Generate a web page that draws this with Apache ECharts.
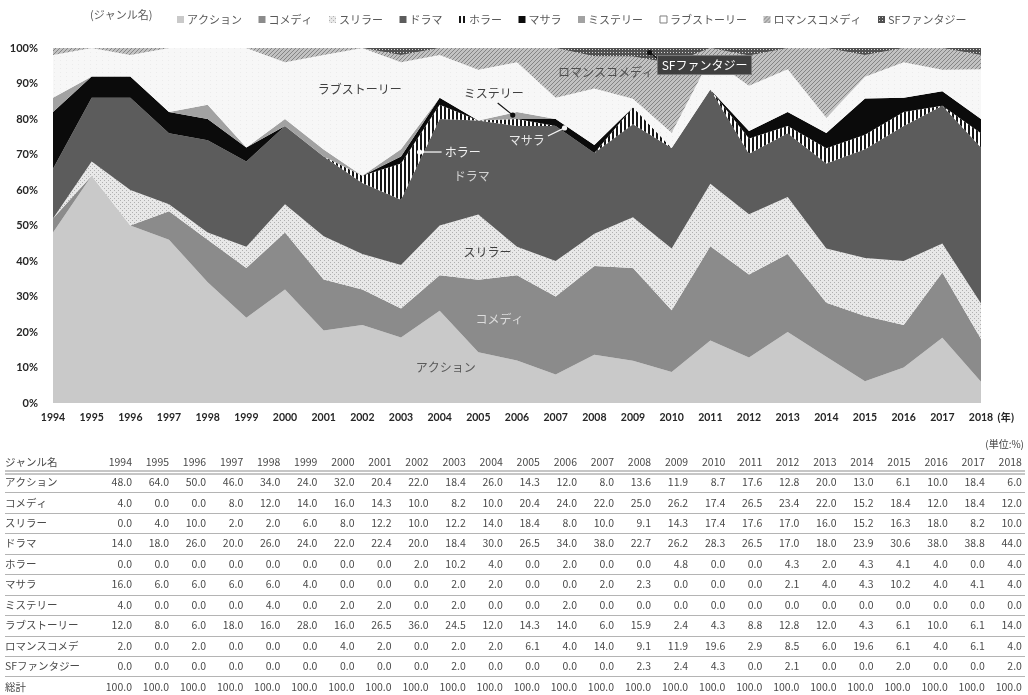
<!DOCTYPE html>
<html>
<head>
<meta charset="utf-8">
<script src="https://cdn.jsdelivr.net/npm/echarts@6/dist/echarts.min.js"></script>
<style>
  html, body { margin: 0; padding: 0; background: #ffffff; }
  #chart { width: 1028px; height: 695px; }
</style>
</head>
<body>
<div id="chart"></div>
<script>
// ---- data (shares by genre, %) ----
const years = ['1994','1995','1996','1997','1998','1999','2000','2001','2002','2003','2004','2005',
               '2006','2007','2008','2009','2010','2011','2012','2013','2014','2015','2016','2017','2018'];

const genres = ['アクション','コメディ','スリラー','ドラマ','ホラー','マサラ','ミステリー','ラブストーリー','ロマンスコメディ','SFファンタジー'];
const tableNames = ['アクション','コメディ','スリラー','ドラマ','ホラー','マサラ','ミステリー','ラブストーリー','ロマンスコメデ','SFファンタジー'];

const action   = [48.0,64.0,50.0,46.0,34.0,24.0,32.0,20.4,22.0,18.4,26.0,14.3,12.0,8.0,13.6,11.9,8.7,17.6,12.8,20.0,13.0,6.1,10.0,18.4,6.0];
const comedy   = [4.0,0.0,0.0,8.0,12.0,14.0,16.0,14.3,10.0,8.2,10.0,20.4,24.0,22.0,25.0,26.2,17.4,26.5,23.4,22.0,15.2,18.4,12.0,18.4,12.0];
const thriller = [0.0,4.0,10.0,2.0,2.0,6.0,8.0,12.2,10.0,12.2,14.0,18.4,8.0,10.0,9.1,14.3,17.4,17.6,17.0,16.0,15.2,16.3,18.0,8.2,10.0];
const drama    = [14.0,18.0,26.0,20.0,26.0,24.0,22.0,22.4,20.0,18.4,30.0,26.5,34.0,38.0,22.7,26.2,28.3,26.5,17.0,18.0,23.9,30.6,38.0,38.8,44.0];
const horror   = [0.0,0.0,0.0,0.0,0.0,0.0,0.0,0.0,2.0,10.2,4.0,0.0,2.0,0.0,0.0,4.8,0.0,0.0,4.3,2.0,4.3,4.1,4.0,0.0,4.0];
const masala   = [16.0,6.0,6.0,6.0,6.0,4.0,0.0,0.0,0.0,2.0,2.0,0.0,0.0,2.0,2.3,0.0,0.0,0.0,2.1,4.0,4.3,10.2,4.0,4.1,4.0];
const mystery  = [4.0,0.0,0.0,0.0,4.0,0.0,2.0,2.0,0.0,2.0,0.0,0.0,2.0,0.0,0.0,0.0,0.0,0.0,0.0,0.0,0.0,0.0,0.0,0.0,0.0];
const lovestory= [12.0,8.0,6.0,18.0,16.0,28.0,16.0,26.5,36.0,24.5,12.0,14.3,14.0,6.0,15.9,2.4,4.3,8.8,12.8,12.0,4.3,6.1,10.0,6.1,14.0];
const romcom   = [2.0,0.0,2.0,0.0,0.0,0.0,4.0,2.0,0.0,2.0,2.0,6.1,4.0,14.0,9.1,11.9,19.6,2.9,8.5,6.0,19.6,6.1,4.0,6.1,4.0];
const sfFantasy= [0.0,0.0,0.0,0.0,0.0,0.0,0.0,0.0,0.0,2.0,0.0,0.0,0.0,0.0,2.3,2.4,4.3,0.0,2.1,0.0,0.0,2.0,0.0,0.0,2.0];
const totals   = [100.0,100.0,100.0,100.0,100.0,100.0,100.0,100.0,100.0,100.0,100.0,100.0,
                  100.0,100.0,100.0,100.0,100.0,100.0,100.0,100.0,100.0,100.0,100.0,100.0,100.0];

const yTicks = [0,10,20,30,40,50,60,70,80,90,100];

const seriesValues = [action, comedy, thriller, drama, horror, masala, mystery, lovestory, romcom, sfFantasy];

// ---- fills ----
function pattern(w, h, draw) {
  const c = document.createElement('canvas');
  c.width = w; c.height = h;
  const g = c.getContext('2d');
  draw(g, w, h);
  return { image: c, repeat: 'repeat' };
}
const fills = [
  '#c9c9c9',
  '#8b8b8b',
  pattern(4, 4, (g) => { g.fillStyle = '#e8e8e8'; g.fillRect(0,0,4,4); g.fillStyle = '#b0b0b0'; g.fillRect(0,0,1,1); g.fillRect(2,2,1,1); }),
  '#5c5c5c',
  pattern(4, 4, (g) => { g.fillStyle = '#ffffff'; g.fillRect(0,0,4,4); g.fillStyle = '#161616'; g.fillRect(0,0,2,4); }),
  '#0b0b0b',
  '#a2a2a2',
  pattern(6, 4, (g) => { g.fillStyle = '#f7f7f7'; g.fillRect(0,0,6,4); g.fillStyle = '#ececec'; g.fillRect(0,0,1,1); }),
  pattern(4, 4, (g) => { g.fillStyle = '#c2c2c2'; g.fillRect(0,0,4,4); g.fillStyle = '#858585';
                         g.fillRect(0,3,1,1); g.fillRect(1,2,1,1); g.fillRect(2,1,1,1); g.fillRect(3,0,1,1); }),
  pattern(3, 3, (g) => { g.fillStyle = '#505050'; g.fillRect(0,0,3,3); g.fillStyle = '#d8d8d8'; g.fillRect(1,1,1,1); })
];

// 100% stacked: each year is scaled to its column total
const colSum = years.map((_, i) => seriesValues.reduce((s, arr) => s + arr[i], 0));
const shares = seriesValues.map(arr => arr.map((v, i) => v / colSum[i] * 100));

const GRID = { left: 53, right: 47, top: 48, bottom: 292 };
const FONT = '"Noto Sans CJK JP", "Noto Sans", sans-serif';
const AXISFONT = 'Lato, "Open Sans", sans-serif';

const chart = echarts.init(document.getElementById('chart'), null, { renderer: 'canvas' });

const legendData = genres.map((g, i) => {
  if (i === 7) return { name: g, itemStyle: { color: '#ffffff', borderColor: '#7f7f7f', borderWidth: 1 } };
  return { name: g };
});

chart.setOption({
  animation: false,
  backgroundColor: '#ffffff',
  grid: GRID,
  legend: {
    data: legendData,
    left: 172, top: 9,
    icon: 'rect', itemWidth: 7, itemHeight: 7, itemGap: 16.5,
    textStyle: { fontFamily: FONT, fontSize: 11, color: '#595959', padding: [0, 0, 0, -2] }
  },
  xAxis: {
    type: 'category', data: years, boundaryGap: false,
    axisLine: { show: false }, axisTick: { show: false },
    axisLabel: { fontFamily: AXISFONT, fontWeight: 'bold', fontSize: 10.5, color: '#262626', margin: 9 }
  },
  yAxis: {
    type: 'value', min: yTicks[0], max: yTicks[yTicks.length - 1], interval: 10,
    axisLine: { show: false }, axisTick: { show: false }, splitLine: { show: false },
    axisLabel: { fontFamily: AXISFONT, fontWeight: 'bold', fontSize: 11, color: '#262626', margin: 15, formatter: '{value}%' }
  },
  series: genres.map((g, i) => ({
    name: g, type: 'line', stack: 'share', data: shares[i],
    symbol: 'none', smooth: false,
    lineStyle: { width: 0, opacity: 0 },
    itemStyle: { color: fills[i] },
    areaStyle: { color: fills[i], opacity: 1 }
  }))
});

// ---- annotations placed in data space ----
function px(ix, val) {
  const i0 = Math.floor(ix), i1 = Math.min(i0 + 1, years.length - 1);
  const p0 = chart.convertToPixel({ gridIndex: 0 }, [years[i0], val]);
  const p1 = chart.convertToPixel({ gridIndex: 0 }, [years[i1], val]);
  const t = ix - i0;
  return [p0[0] + (p1[0] - p0[0]) * t, p0[1]];
}

const graphics = [];
const notes = [
  { text: 'ラブストーリー',   at: [7.93, 88.3], color: '#404040' },
  { text: 'ミステリー',       at: [11.4, 87.3], color: '#404040' },
  { text: 'ホラー',           at: [10.6, 70.7], color: '#f2f2f2' },
  { text: 'ドラマ',           at: [10.83, 63.9], color: '#d2d2d2' },
  { text: 'マサラ',           at: [12.25, 74.1], color: '#e8e8e8' },
  { text: 'ロマンスコメディ', at: [14.3, 93.0], color: '#505050' },
  { text: 'スリラー',         at: [11.24, 42.3], color: '#404040' },
  { text: 'コメディ',         at: [11.55, 23.4], color: '#dcdcdc' },
  { text: 'アクション',       at: [10.16, 9.9], color: '#5a5a5a' }
];
notes.forEach(n => {
  const p = px(n.at[0], n.at[1]);
  graphics.push({ type: 'text', x: p[0], y: p[1], z: 10,
    style: { text: n.text, fill: n.color, font: '12px ' + FONT, align: 'center', verticalAlign: 'middle' } });
});

// leader lines with end dots
const leaders = [
  { from: [11.5, 84.5], to: [11.89, 81.1], color: '#111111' },
  { from: [10.05, 70.7], to: [9.48, 70.7], color: '#ffffff' },
  { from: [12.8, 75.2], to: [13.23, 77.5], color: '#f4f4f4' },
  { from: [15.65, 96.9], to: [15.43, 98.7], color: '#111111' }
];
leaders.forEach(l => {
  const a = px(l.from[0], l.from[1]), b = px(l.to[0], l.to[1]);
  graphics.push({ type: 'line', z: 10, shape: { x1: a[0], y1: a[1], x2: b[0], y2: b[1] },
    style: { stroke: l.color, lineWidth: 1.2 } });
  graphics.push({ type: 'circle', z: 11, shape: { cx: b[0], cy: b[1], r: 2.6 }, style: { fill: l.color } });
});

// boxed label for the thin top band
const sfPos = px(16.85, 95.2);
graphics.push({ type: 'rect', z: 12, shape: { x: sfPos[0] - 47, y: sfPos[1] - 9.5, width: 94, height: 19 },
  style: { fill: '#3f3f3f', stroke: '#7a7a7a', lineWidth: 1 } });
graphics.push({ type: 'text', z: 13, x: sfPos[0], y: sfPos[1],
  style: { text: 'SFファンタジー', fill: '#ffffff', font: '12px ' + FONT, align: 'center', verticalAlign: 'middle' } });

// legend caption and axis unit
graphics.push({ type: 'text', x: 90, y: 15, style: { text: '(ジャンル名)', fill: '#595959', font: '11px ' + FONT, verticalAlign: 'middle' } });
graphics.push({ type: 'text', x: 997, y: 417, style: { text: '(年)', fill: '#262626', font: 'bold 10px ' + FONT, verticalAlign: 'middle' } });

// ---- data table ----
const tblTop = 461.7, rowH = 20.45, colRight0 = 132, colW = 37.08;
const TFONT = '10.5px ' + FONT;
graphics.push({ type: 'text', x: 1024, y: 444, style: { text: '(単位:%)', fill: '#404040', font: '10px ' + FONT, align: 'right', verticalAlign: 'middle' } });

const rows = [{ label: 'ジャンル名', vals: years, header: true }]
  .concat(seriesValues.map((arr, i) => ({ label: tableNames[i], vals: arr.map(v => v.toFixed(1)) })))
  .concat([{ label: '総計', vals: totals.map(v => v.toFixed(1)) }]);

rows.forEach((r, k) => {
  const y = tblTop + k * rowH;
  graphics.push({ type: 'text', x: 5, y: y, style: { text: r.label, fill: '#4a4a4a', font: TFONT, verticalAlign: 'middle' } });
  r.vals.forEach((v, i) => {
    graphics.push({ type: 'text', x: colRight0 + i * colW, y: y,
      style: { text: v, fill: '#4a4a4a', font: TFONT, align: 'right', verticalAlign: 'middle' } });
  });
  if (k < rows.length - 1) {
    const ly = Math.round(y + rowH / 2) + 0.5;
    if (k === 0) {
      graphics.push({ type: 'line', shape: { x1: 5, y1: ly - 1.5, x2: 1025, y2: ly - 1.5 }, style: { stroke: '#8c8c8c', lineWidth: 1 } });
      graphics.push({ type: 'line', shape: { x1: 5, y1: ly + 1.5, x2: 1025, y2: ly + 1.5 }, style: { stroke: '#8c8c8c', lineWidth: 1 } });
    } else {
      graphics.push({ type: 'line', shape: { x1: 5, y1: ly, x2: 1025, y2: ly }, style: { stroke: '#b4b4b4', lineWidth: 1 } });
    }
  }
});

chart.setOption({ graphic: graphics });
</script>
</body>
</html>
